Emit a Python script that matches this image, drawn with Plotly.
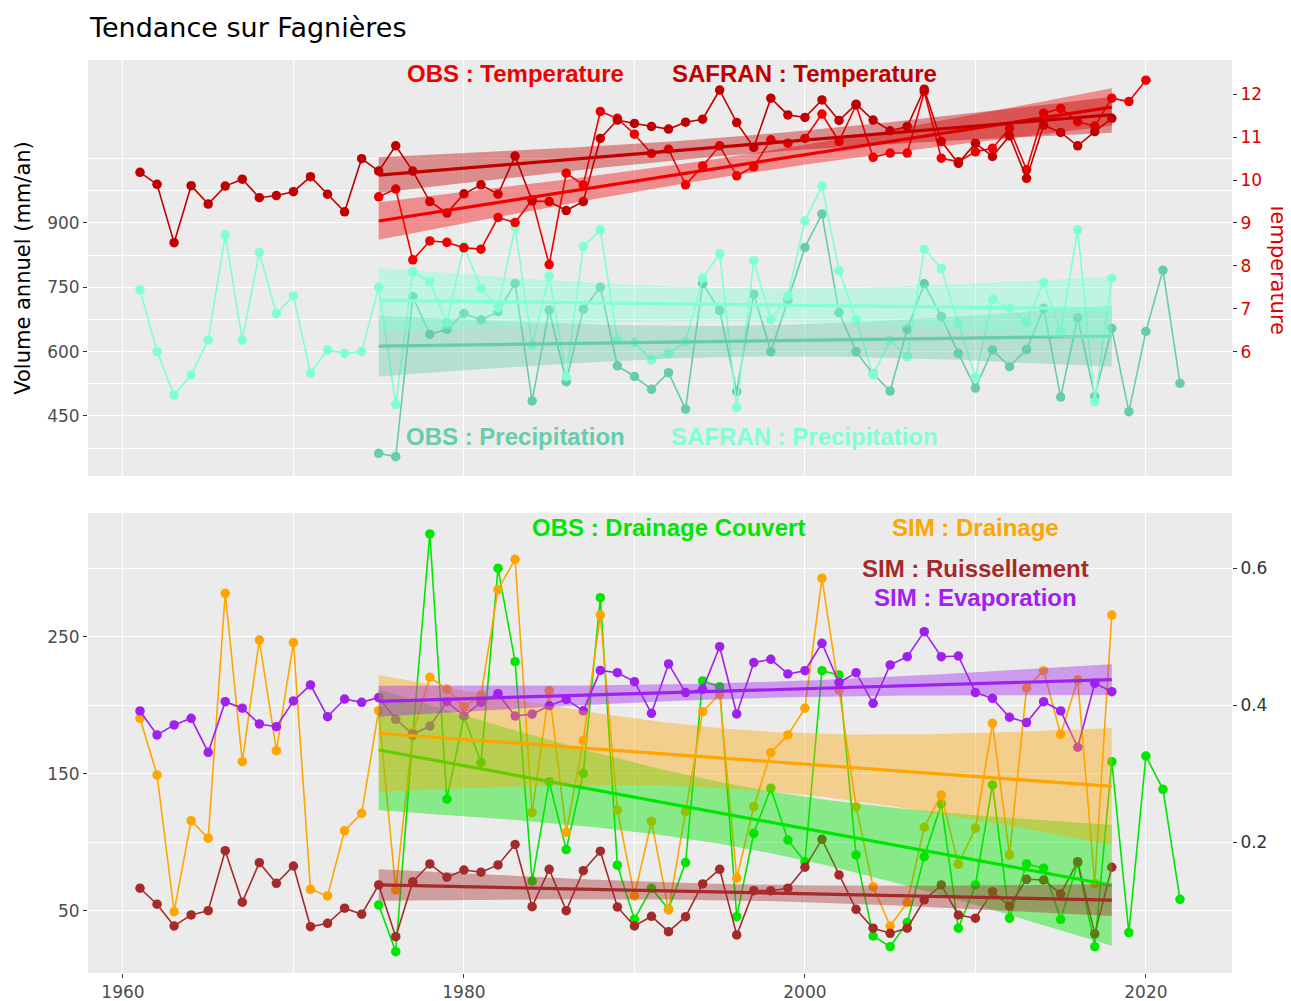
import numpy as np
import plotly.graph_objects as go

# ---------------- data ----------------
years_safran = list(range(1961, 2019))
years_obs = list(range(1975, 2023))
years_obs_temp = list(range(1975, 2021))

temp_safran = [10.18, 9.90, 8.54, 9.87, 9.44, 9.86, 10.02, 9.59, 9.64, 9.73,
               10.08, 9.67, 9.26, 10.50, 10.21, 10.80, 10.21, 9.50, 9.23, 9.68,
               9.89, 9.67, 10.56, 9.51, 9.50, 9.29, 9.50, 10.97, 11.40, 11.32,
               11.25, 11.19, 11.35, 11.42, 12.10, 11.34, 10.76, 11.91, 11.52, 11.46,
               11.87, 11.39, 11.77, 11.40, 11.15, 11.25, 12.12, 10.90, 10.39, 10.86,
               10.55, 11.03, 10.04, 11.28, 11.11, 10.80, 11.13, 11.44]
temp_obs = [9.61, 9.79, 8.14, 8.58, 8.55, 8.42, 8.39, 9.13, 9.01, 9.54,
            8.03, 10.16, 9.89, 11.60, 11.44, 11.07, 10.62, 10.72, 9.89, 10.33,
            10.80, 10.10, 10.31, 10.94, 10.86, 10.97, 11.54, 10.90, 11.75, 10.53,
            10.63, 10.63, 12.06, 10.51, 10.43, 10.66, 10.74, 11.21, 10.24, 11.56,
            11.67, 11.36, 11.26, 11.91, 11.83, 12.33]
precip_safran = [744, 600, 499, 546, 627, 872, 627, 831, 689, 730,
                 550, 604, 596, 600, 750, 477, 786, 763, 668, 846,
                 748, 703, 890, 616, 776, 542, 845, 884, 627, 621,
                 581, 596, 623, 771, 828, 470, 812, 674, 730, 905,
                 986, 789, 675, 546, 627, 588, 839, 794, 666, 540,
                 722, 701, 670, 761, 647, 884, 483, 771]
precip_obs = [363, 355, 728, 640, 652, 689, 674, 693, 759, 485,
              697, 530, 699, 750, 567, 542, 512, 551, 466, 759,
              696, 507, 734, 600, 720, 843, 921, 691, 600, 548,
              508, 652, 758, 682, 596, 515, 604, 565, 605, 701,
              494, 679, 495, 654, 460, 647, 790, 526]

drain_obs = [54.4, 20.3, 178, 325.2, 131.6, 192, 158.5, 300.1, 232, 71.8,
             144.4, 94.8, 150.5, 278.7, 83.4, 44, 66.6, 51.2, 85.3, 217.9,
             213.7, 45.8, 106.7, 139.6, 101.8, 86, 225.4, 222.3, 90.9, 31.7,
             23.9, 41.5, 89.6, 128.1, 37.4, 69, 142, 44.7, 84.3, 81.2,
             43.9, 85, 23.9, 159, 34.2, 163.1, 138.8, 58.5]
drain_sim = [190.6, 149.3, 49.5, 115.9, 103.1, 281.9, 159, 247.8, 167, 245.9,
             65.8, 61, 108.6, 121.3, 196.2, 65.3, 180, 220.6, 212, 199,
             207.7, 284.5, 306.7, 121.8, 210.8, 107.5, 174.5, 266, 123.7, 61,
             115.5, 50.7, 122.5, 195.5, 208.4, 73.9, 126.1, 165.5, 178.5, 198,
             292.8, 211.3, 126.1, 67.7, 39, 56.1, 111.1, 134.7, 84.1, 110.4,
             187, 90.9, 212.6, 225.4, 179, 218.6, 70.2, 266]
ruiss_sim = [66.6, 54.9, 39, 47.1, 50.2, 94, 56.4, 85.2, 70.2, 82.8,
             38.5, 41, 52, 47.6, 69, 31.2, 71.3, 84.3, 74.6, 79.9,
             78.3, 83.6, 98.5, 53.1, 80.4, 50.2, 79.4, 93.6, 52.9, 39,
             46.1, 34.9, 45.8, 69.7, 80.4, 32.5, 64.8, 64.8, 66.6, 81.9,
             102.3, 76.3, 51.2, 37.4, 33.7, 37.4, 58, 69, 47.1, 44.7,
             64.1, 53.6, 73.1, 72.6, 62.4, 86, 33.2, 81.9]
evap_sim = [196, 178.5, 185.8, 190.6, 165.8, 202.8, 198, 186.5, 184.5, 203.3,
            215, 191.8, 204.7, 202.3, 205.8, 189.9, 179, 185, 202.8, 192.3,
            202.4, 208.6, 192.3, 193.7, 199.8, 204.5, 196.1, 225.6, 223.9, 217.4,
            194.3, 230.3, 209.4, 211.8, 242.9, 193.8, 231.3, 233.7, 223, 225.4,
            245.4, 216.7, 223.9, 201.6, 229.6, 235.6, 253.9, 235.6, 236.1, 209.4,
            205.2, 191.4, 187.5, 202.8, 196, 169.5, 216.2, 210.1]

x_ticks = [1960, 1980, 2000, 2020]
x_minor = [1970, 1990, 2010]
top_ticks = [450, 600, 750, 900]
top_minor = [375, 525, 675, 825, 975, 1050]
temp_ticks = [6, 7, 8, 9, 10, 11, 12]
bot_ticks = [50, 150, 250]
bot_minor = [100, 200, 300]
ratio_ticks = [0.2, 0.4, 0.6]

# ---------------- styles ----------------
C_OBS_T = '#F00000'
C_SAF_T = '#C00000'
C_OBS_P = '#66CDAA'
C_SAF_P = '#7FFFD4'
C_OBS_D = '#00E600'
C_SIM_D = '#FFA500'
C_SIM_R = '#A52A2A'
C_SIM_E = '#A020F0'

FONT = 'DejaVu Sans'
BFONT = 'Liberation Sans, Arial'
TREND = (1975, 2018)
TEMP_SCALE = 100.0
RATIO_SCALE = 500.0
X_RANGE = [1957.95, 2025.05]
TOP_RANGE = [310, 1280]
BOT_RANGE = [4.7, 340.5]


def rgba(hexc, a):
    h = hexc.lstrip('#')
    r, g, b = int(h[0:2], 16), int(h[2:4], 16), int(h[4:6], 16)
    return f'rgba({r},{g},{b},{a})'


def t_quantile(df, z=1.959964):
    # Cornish-Fisher expansion of the Student t 0.975 quantile
    return (z + (z**3 + z) / (4 * df) + (5 * z**5 + 16 * z**3 + 3 * z) / (96 * df**2)
            + (3 * z**7 + 19 * z**5 + 17 * z**3 - 15 * z) / (384 * df**3))


def lm_band(years, values, n=80):
    x = np.asarray(years, float)
    y = np.asarray(values, float)
    m = (x >= TREND[0]) & (x <= TREND[1])
    x, y = x[m], y[m]
    N = len(x)
    b1, b0 = np.polyfit(x, y, 1)
    s = np.sqrt(np.sum((y - (b0 + b1 * x)) ** 2) / (N - 2))
    xg = np.linspace(x.min(), x.max(), n)
    fit = b0 + b1 * xg
    se = s * np.sqrt(1.0 / N + (xg - x.mean()) ** 2 / np.sum((x - x.mean()) ** 2))
    t = t_quantile(N - 2)
    return xg, fit, fit - t * se, fit + t * se


fig = go.Figure()


def add_series(years, vals, color, xa, ya):
    fig.add_trace(go.Scatter(x=years, y=vals, mode='lines+markers', xaxis=xa, yaxis=ya,
                             line=dict(color=color, width=1.6),
                             marker=dict(color=color, size=9.5, line=dict(width=0)),
                             hoverinfo='skip', showlegend=False))


def add_trend(years, vals, color, xa, ya, alpha=0.4):
    xg, fit, lo, hi = lm_band(years, vals)
    fig.add_trace(go.Scatter(x=np.concatenate([xg, xg[::-1]]), y=np.concatenate([hi, lo[::-1]]),
                             fill='toself', fillcolor=rgba(color, alpha), line=dict(width=0),
                             mode='lines', xaxis=xa, yaxis=ya, hoverinfo='skip', showlegend=False))
    fig.add_trace(go.Scatter(x=xg, y=fit, mode='lines', line=dict(color=color, width=3.2),
                             xaxis=xa, yaxis=ya, hoverinfo='skip', showlegend=False))


# top panel: precipitation (left axis) and temperature (right axis)
add_series(years_obs, precip_obs, C_OBS_P, 'x', 'y')
add_series(years_safran, precip_safran, C_SAF_P, 'x', 'y')
add_trend(years_obs, precip_obs, C_OBS_P, 'x', 'y')
add_trend(years_safran, precip_safran, C_SAF_P, 'x', 'y')

add_series(years_obs_temp, temp_obs, C_OBS_T, 'x', 'y2')
add_series(years_safran, temp_safran, C_SAF_T, 'x', 'y2')
add_trend(years_obs_temp, temp_obs, C_OBS_T, 'x', 'y2')
add_trend(years_safran, temp_safran, C_SAF_T, 'x', 'y2')

# bottom panel
add_series(years_obs, drain_obs, C_OBS_D, 'x2', 'y3')
add_series(years_safran, drain_sim, C_SIM_D, 'x2', 'y3')
add_series(years_safran, ruiss_sim, C_SIM_R, 'x2', 'y3')
add_series(years_safran, evap_sim, C_SIM_E, 'x2', 'y3')
add_trend(years_obs, drain_obs, C_OBS_D, 'x2', 'y3', 0.42)
add_trend(years_safran, drain_sim, C_SIM_D, 'x2', 'y3')
add_trend(years_safran, ruiss_sim, C_SIM_R, 'x2', 'y3')
add_trend(years_safran, evap_sim, C_SIM_E, 'x2', 'y3')
# empty trace so the right-hand ratio axis of the bottom panel is drawn
fig.add_trace(go.Scatter(x=[], y=[], xaxis='x2', yaxis='y4', mode='markers',
                         hoverinfo='skip', showlegend=False))

# ---------------- layout ----------------
# the page body adds an 8px offset, so the figure is 8px smaller and margins shifted
OFF = 8
W, H = 1291 - OFF, 1001 - OFF
L, T = 88 - OFF, 60 - OFF
R = W - (1232 - OFF)
B = H - (973 - OFF)
ph = H - T - B
top_dom = [1 - (476 - 60) / ph, 1]
bot_dom = [0, (973 - 513) / ph]

tickfont = dict(family=FONT, size=17, color='#4D4D4D')
grid = dict(showgrid=True, gridcolor='white', gridwidth=1.4, zeroline=False, showline=False)
minor_grid = dict(showgrid=True, gridcolor='white', gridwidth=0.7, ticks='')

fig.update_layout(
    width=W, height=H,
    margin=dict(l=L, r=R, t=T, b=B, autoexpand=False),
    paper_bgcolor='white', plot_bgcolor='#EBEBEB',
    showlegend=False,
    title=dict(text='Tendance sur Fagnières', x=(90 - OFF) / W, xanchor='left',
               y=1 - (28 - OFF) / H, yanchor='middle',
               font=dict(family=FONT, size=27, color='black')),
    xaxis=dict(domain=[0, 1], anchor='y', range=X_RANGE, tickvals=x_ticks, showticklabels=False,
               minor=dict(tickvals=x_minor, **minor_grid), **grid),
    yaxis=dict(domain=top_dom, anchor='x', range=TOP_RANGE, tickvals=top_ticks, tickfont=tickfont,
               ticks='outside', ticklen=4, tickcolor='#333333',
               minor=dict(tickvals=top_minor, **minor_grid),
               title=dict(text='Volume annuel (mm/an)', font=dict(family=FONT, size=21, color='black'),
                          standoff=10),
               **grid),
    yaxis2=dict(anchor='x', overlaying='y', side='right',
                range=[v / TEMP_SCALE for v in TOP_RANGE], tickvals=temp_ticks,
                tickfont=dict(family=FONT, size=17, color='#E00000'),
                ticks='outside', ticklen=4, tickcolor='#333333', showgrid=False, zeroline=False),
    xaxis2=dict(domain=[0, 1], anchor='y3', range=X_RANGE, tickvals=x_ticks, tickfont=tickfont,
                ticks='outside', ticklen=4, tickcolor='#333333',
                minor=dict(tickvals=x_minor, **minor_grid), **grid),
    yaxis3=dict(domain=bot_dom, anchor='x2', range=BOT_RANGE, tickvals=bot_ticks, tickfont=tickfont,
                ticks='outside', ticklen=4, tickcolor='#333333',
                minor=dict(tickvals=bot_minor, **minor_grid), **grid),
    yaxis4=dict(anchor='x2', overlaying='y3', side='right',
                range=[v / RATIO_SCALE for v in BOT_RANGE], tickvals=ratio_ticks,
                tickfont=dict(family=FONT, size=17, color='#333333'),
                ticks='outside', ticklen=4, tickcolor='#333333', showgrid=False, zeroline=False),
)

labels = [
    ('OBS : Temperature', 1983, 1248, 'x', 'y', C_OBS_T),
    ('SAFRAN : Temperature', 2000, 1248, 'x', 'y', C_SAF_T),
    ('OBS : Precipitation', 1983, 401, 'x', 'y', C_OBS_P),
    ('SAFRAN : Precipitation', 2000, 401, 'x', 'y', C_SAF_P),
    ('OBS : Drainage Couvert', 1992, 330, 'x2', 'y3', C_OBS_D),
    ('SIM : Drainage', 2010, 330, 'x2', 'y3', C_SIM_D),
    ('SIM : Ruissellement', 2010, 300, 'x2', 'y3', C_SIM_R),
    ('SIM : Evaporation', 2010, 279, 'x2', 'y3', C_SIM_E),
]
for txt, xx, yy, xr, yr, col in labels:
    fig.add_annotation(text=f'<b>{txt}</b>', x=xx, y=yy, xref=xr, yref=yr, showarrow=False,
                       xanchor='center', yanchor='middle',
                       font=dict(family=BFONT, size=24, color=col))

fig.add_annotation(text='Temperature', textangle=90, x=(1278 - 88) / (1232 - 88), y=0.5,
                   xref='x domain', yref='y domain', showarrow=False, xanchor='center', yanchor='middle',
                   font=dict(family=FONT, size=21, color='#E00000'))

fig.write_html('out.html')
